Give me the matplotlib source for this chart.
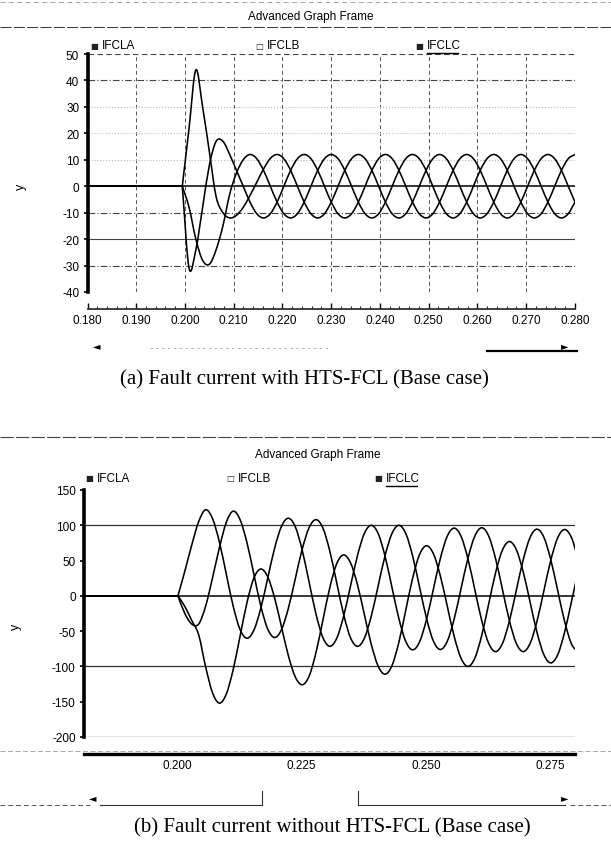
import numpy as np
import matplotlib
matplotlib.use("Agg")
import matplotlib.pyplot as plt
from matplotlib.lines import Line2D
from matplotlib.path import Path
from matplotlib.patches import PathPatch

# sampling step of the read-off curves (30 deg of a 60 Hz cycle)
dt = 1 / 720

# (a) fault current with HTS-FCL, samples 0.19944 s .. 0.280 s
t_a = 0.280 - dt * np.arange(58, -1, -1)
ia_a = [0, 22, 44, 30, 13, -4, -10, -12, -11, -8, -3.5, 1.5, 6.5, 10.5,
        12, 10.4, 6, 0, -6, -10.4, -12, -10.4, -6, 0, 6, 10.4,
        12, 10.4, 6, 0, -6, -10.4, -12, -10.4, -6, 0, 6, 10.4,
        12, 10.4, 6, 0, -6, -10.4, -12, -10.4, -6, 0, 6, 10.4,
        12, 10.4, 6, 0, -6, -10.4, -12, -10.4, -6]
ib_a = [0, -31, -24, -8, 8, 17, 17, 12, 6, 0, -6, -10.4,
        -12, -10.4, -6, 0, 6, 10.4, 12, 10.4, 6, 0, -6, -10.4,
        -12, -10.4, -6, 0, 6, 10.4, 12, 10.4, 6, 0, -6, -10.4,
        -12, -10.4, -6, 0, 6, 10.4, 12, 10.4, 6, 0, -6, -10.4,
        -12, -10.4, -6, 0, 6, 10.4, 12, 10.4, 6, 0, -6]
ic_a = [0, -8, -20, -28, -29.5, -24, -15, -3, 5, 10,
        12, 10.4, 6, 0, -6, -10.4, -12, -10.4, -6, 0, 6, 10.4,
        12, 10.4, 6, 0, -6, -10.4, -12, -10.4, -6, 0, 6, 10.4,
        12, 10.4, 6, 0, -6, -10.4, -12, -10.4, -6, 0, 6, 10.4,
        12, 10.4, 6, 0, -6, -10.4, -12, -10.4, -6, 0, 6, 10.4,
        12]

# (b) fault current without HTS-FCL, samples 0.20014 s .. 0.2807 s
t_b = 0.20014 + dt * np.arange(59)
ia_b = [0, -15, -35, -55, -100, -137, -152, -139.3, -104.5, -57, -9.5, 25.3,
        38, 27, -3, -44, -85, -115, -126, -113.7, -80, -34, 12, 45.7,
        58, 46.7, 15.8, -26.5, -68.8, -99.7, -111, -98.8, -65.5, -20, 25.5, 58.8,
        71, 59.5, 28.3, -14.5, -57.3, -88.5, -100, -88.1, -55.8, -11.5, 32.8, 65.1,
        77, 65.5, 34, -9, -52, -83.5, -95, -83.3, -51.3, -7.5, 36.3]
ib_b = [0, 35, 72, 105, 122, 109.8, 76.5, 31, -14.5, -47.8, -60, -48.6,
        -17.5, 25, 67.5, 98.6, 110, 97.8, 64.6, 19.3, -26.1, -59.3, -71.5, -60,
        -28.6, 14.3, 57.1, 88.5, 100, 88.2, 55.9, 11.8, -32.4, -64.7, -76.5, -65,
        -33.4, 9.8, 52.9, 84.5, 96, 84.3, 52.3, 8.5, -35.3, -67.3, -79, -67.4,
        -35.6, 7.8, 51.1, 82.9, 94.5, 82.8, 50.9, 7.3, -36.4, -68.3, -80]
ic_b = [0, -25, -40, -40, -15, 25, 68, 104, 120, 108, 75.3, 30.5,
        -14.3, -47, -59, -47.8, -17.3, 24.5, 66.3, 96.8, 108, 96, 63.1, 18.3,
        -26.6, -59.5, -71.5, -60, -28.6, 14.3, 57.1, 88.5, 100, 88.2, 56, 12,
        -32, -64.2, -76, -64.4, -32.9, 10.3, 53.4, 84.9, 96.5, 84.8, 52.6, 8.8,
        -35.1, -67.3, -79, -67.4, -35.8, 7.5, 50.8, 82.4, 94, 82.3, 50.5]

# pre-fault level (currents ~0 before 0.2 s)
t_pre = 0.180
i_pre = 0

legend_names = ["IFCLA", "IFCLB", "IFCLC"]
ticks_a = [0.180, 0.190, 0.200, 0.210, 0.220, 0.230, 0.240, 0.250, 0.260, 0.270, 0.280]
ticks_b = [0.200, 0.225, 0.250, 0.275]

W, H = 611, 845
plt.rcParams['font.family'] = ['Liberation Sans', 'DejaVu Sans']
plt.rcParams['axes.unicode_minus'] = False
fig = plt.figure(figsize=(W / 100, H / 100), dpi=100)


def fx(x):
    return x / W


def fy(y):
    return 1 - y / H


def hline(x0, x1, y, **kw):
    fig.add_artist(Line2D([fx(x0), fx(x1)], [fy(y), fy(y)], transform=fig.transFigure, **kw))


def vline(x, y0, y1, **kw):
    fig.add_artist(Line2D([fx(x), fx(x)], [fy(y0), fy(y1)], transform=fig.transFigure, **kw))


def style_axes(ax):
    for s in ["top", "right"]:
        ax.spines[s].set_visible(False)
    ax.spines["left"].set_linewidth(2.6)
    ax.spines["left"].set_color("black")
    ax.spines["bottom"].set_position(("outward", 12))
    ax.tick_params(axis="y", direction="out", length=3, width=1.2, pad=3, labelsize=8.5)
    ax.tick_params(axis="x", direction="in", length=4, width=1, pad=4, labelsize=8.5)
    ax.set_facecolor("none")


def smooth_curve(ax, t, y):
    # draw the sampled points joined by cubic segments (passes through every sample)
    t = np.asarray(t)
    y = np.asarray(y, float)
    m = np.gradient(y, t)
    verts = [(t[0], y[0])]
    codes = [Path.MOVETO]
    for i in range(len(t) - 1):
        h = t[i + 1] - t[i]
        verts += [(t[i] + h / 3, y[i] + m[i] * h / 3),
                  (t[i + 1] - h / 3, y[i + 1] - m[i + 1] * h / 3),
                  (t[i + 1], y[i + 1])]
        codes += [Path.CURVE4] * 3
    ax.add_patch(PathPatch(Path(verts, codes), fill=False, ec="black", lw=1.15,
                           joinstyle="round", capstyle="round"))


def draw_phases(ax, t, phases):
    for vals in phases:
        ax.plot([t_pre, t[0]], [i_pre, vals[0]], color="black", lw=1.3)
        smooth_curve(ax, t, vals)


# ---------------- panel (a) ----------------
ax1 = fig.add_axes([fx(87.5), fy(293), fx(575) - fx(87.5), (293 - 55) / H])
style_axes(ax1)
ax1.set_xlim(0.180, 0.280)
ax1.set_ylim(-40, 50)
ax1.set_yticks(np.arange(-40, 51, 10))
ax1.set_xticks(ticks_a)
ax1.set_xticklabels(["%.3f" % v for v in ticks_a])
ax1.set_xticks(np.arange(0.180, 0.2801, 0.002), minor=True)
ax1.tick_params(axis="x", which="minor", direction="in", length=2)
ax1.spines["bottom"].set_linewidth(1.3)
ax1.spines["bottom"].set_color("#333333")

for v in ticks_a[1:-1]:
    ax1.axvline(v, color="#555555", lw=0.7, ls=(0, (4, 3)), zorder=0)
for v, ls in [(50, (0, (5, 3))), (40, (0, (6, 2, 1, 2))), (30, ":"), (20, ":"), (10, ":"),
              (0, "-"), (-10, (0, (6, 2, 1, 2))), (-20, "-"), (-30, (0, (6, 2, 1, 2)))]:
    lw = 1.1 if v == 0 else 0.8
    col = "black" if v == 0 else ("#bbbbbb" if ls == ":" else "#444444")
    ax1.axhline(v, color=col, lw=lw, ls=ls, zorder=0)

draw_phases(ax1, t_a, [ia_a, ib_a, ic_a])

# ---------------- panel (b) ----------------
ax2 = fig.add_axes([fx(84), fy(738), fx(575) - fx(84), (738 - 491) / H])
style_axes(ax2)
ax2.set_xlim(0.18125, 0.280)
ax2.set_ylim(-200, 150)
ax2.set_yticks(np.arange(-200, 151, 50))
ax2.set_xticks(ticks_b)
ax2.set_xticklabels(["%.3f" % v for v in ticks_b])
ax2.spines["bottom"].set_linewidth(2.4)
ax2.tick_params(axis="x", length=0)
for v in [100, 0, -100, -200]:
    ax2.axhline(v, color="#333333" if v else "black", lw=0.9 if v else 1.1, zorder=0)

draw_phases(ax2, t_b, [ia_b, ib_b, ic_b])

# ---------------- frame texts ----------------
for title_x, title_y, leg_y, leg_x in [(311, 17, 46, [90, 255, 415]),
                                       (318, 455, 479, [85, 226, 374])]:
    fig.text(fx(title_x), fy(title_y), "Advanced Graph Frame", ha="center", va="center", fontsize=8.5)
    marks = ["\u25a0", "\u25a1", "\u25a0"]
    for x, m, name in zip(leg_x, marks, legend_names):
        fig.text(fx(x), fy(leg_y), m, ha="left", va="center", fontsize=6,
                 family="DejaVu Sans", color="#222222")
        fig.text(fx(x + 12), fy(leg_y), name, ha="left", va="center", fontsize=8.5)
    hline(leg_x[2] + 12, leg_x[2] + 43, leg_y + 8, color="black", lw=1)

hline(0, 611, 3, color="#999999", lw=0.6, ls=(0, (6, 4)))
hline(0, 611, 28, color="#444444", lw=0.8, ls=(0, (10, 2)))
hline(0, 611, 438, color="#444444", lw=0.8, ls=(0, (12, 2)))
hline(0, 611, 752, color="#999999", lw=0.6, ls=(0, (6, 3)))

fig.text(fx(21), fy(187), "y", rotation=90, ha="center", va="center", fontsize=9)
fig.text(fx(16), fy(627), "y", rotation=90, ha="center", va="center", fontsize=9)

# scroll bars
fig.text(fx(97), fy(346), "\u25c4", family="DejaVu Sans", fontsize=7, ha="center", va="center")
fig.text(fx(565), fy(346), "\u25ba", family="DejaVu Sans", fontsize=7, ha="center", va="center")
hline(150, 330, 349, color="#aaaaaa", lw=0.6, ls=(0, (3, 4)))
hline(487, 577, 352, color="black", lw=1.6)

fig.text(fx(93), fy(798), "\u25c4", family="DejaVu Sans", fontsize=7, ha="center", va="center")
fig.text(fx(565), fy(798), "\u25ba", family="DejaVu Sans", fontsize=7, ha="center", va="center")
hline(0, 90, 806, color="#555555", lw=0.7, ls=(0, (5, 3)))
hline(100, 262, 806, color="#333333", lw=0.8)
vline(262, 792, 806, color="#333333", lw=0.8)
hline(358, 565, 806, color="#333333", lw=0.8)
vline(358, 792, 806, color="#333333", lw=0.8)
hline(570, 611, 806, color="#555555", lw=0.7, ls=(0, (5, 3)))

fig.text(fx(304), fy(380), "(a) Fault current with HTS-FCL (Base case)",
         family="Liberation Serif", fontsize=15, ha="center", va="center")
fig.text(fx(332), fy(828), "(b) Fault current without HTS-FCL (Base case)",
         family="Liberation Serif", fontsize=15, ha="center", va="center")

fig.savefig("out.png", dpi=100)
